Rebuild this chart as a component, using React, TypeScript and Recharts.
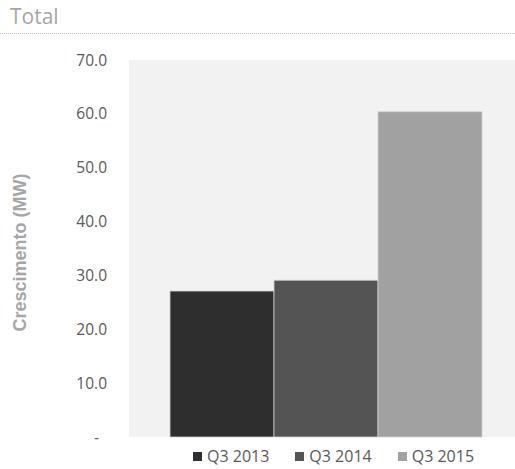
import React from 'react';
import { BarChart, Bar, XAxis, YAxis, CartesianGrid, Legend } from 'recharts';

const categories = ['Total'];
const seriesNames = ['Q3 2013', 'Q3 2014', 'Q3 2015'];
const q3_2013 = [27.1];
const q3_2014 = [29.1];
const q3_2015 = [60.4];
const yTicks = [0, 10, 20, 30, 40, 50, 60, 70];
const seriesColors = ['#2e2e2e', '#545454', '#a1a1a1'];

const data = categories.map((name, i) => ({
  name,
  [seriesNames[0]]: q3_2013[i],
  [seriesNames[1]]: q3_2014[i],
  [seriesNames[2]]: q3_2015[i],
}));

const FONT = '"Open Sans", "Noto Sans", sans-serif';

const renderLegend = (props: any) => {
  const { payload } = props;
  return (
    <div
      style={{
        display: 'flex',
        justifyContent: 'flex-start',
        paddingLeft: 193,
        height: 32,
        alignItems: 'flex-end',
        fontFamily: FONT,
        fontSize: 16,
        color: '#595959',
        boxSizing: 'border-box',
        paddingBottom: 3,
      }}
    >
      {(payload || []).map((p: any, i: number) => (
        <div key={i} style={{ display: 'flex', alignItems: 'center', marginRight: 26, lineHeight: '20px' }}>
          <span style={{ display: 'inline-block', width: 9, height: 9, background: p.color, marginRight: 5 }} />
          <span>{p.value}</span>
        </div>
      ))}
    </div>
  );
};

const YLabel = (props: any) => {
  const vb = props.viewBox || {};
  const cy = (vb.y || 0) + (vb.height || 0) / 2 + 4;
  const cx = 20;
  return (
    <text
      x={cx}
      y={cy}
      transform={`rotate(-90 ${cx} ${cy})`}
      textAnchor="middle"
      dominantBaseline="central"
      fill="#a6a6a6"
      style={{ fontFamily: '"Liberation Sans", Arial, sans-serif', fontSize: 18, fontWeight: 'bold' }}
    >
      Crescimento (MW)
    </text>
  );
};

export default function App() {
  return (
    <div style={{ position: 'absolute', left: 0, top: 0, width: 515, height: 469, background: '#fff', overflow: 'hidden' }}>
      <div
        style={{
          position: 'absolute',
          left: 10,
          top: 0,
          fontFamily: FONT,
          fontSize: 21,
          color: '#a6a6a6',
          lineHeight: '32px',
        }}
      >
        Total
      </div>
      <div
        style={{
          position: 'absolute',
          left: 0,
          top: 33,
          width: 515,
          borderTop: '1px dotted #bfbfbf',
        }}
      />
      <div style={{ position: 'absolute', left: 0, top: 0 }}>
        <BarChart
          width={515}
          height={469}
          data={data}
          margin={{ top: 60, right: 0, bottom: 0, left: 0 }}
          barGap={0}
          barCategoryGap={32}
        >
          <CartesianGrid fill="#f2f2f2" stroke="none" horizontal={false} vertical={false} />
          <XAxis dataKey="name" hide padding={{ left: 9, right: 0 }} />
          <YAxis
            width={129}
            domain={[0, 70]}
            ticks={yTicks}
            interval={0}
            axisLine={false}
            tickLine={false}
            tickSize={0}
            tickMargin={22}
            tickFormatter={(v: number) => (v === 0 ? '-\u00a0\u00a0' : v.toFixed(1))}
            tick={{ fill: '#595959', fontSize: 15.5, fontFamily: FONT }}
            label={<YLabel />}
          />
          <Legend verticalAlign="bottom" content={renderLegend} />
          {seriesNames.map((s, i) => (
            <Bar
              key={s}
              dataKey={s}
              fill={seriesColors[i]}
              stroke="#d0d0d0"
              strokeWidth={0.8}
              isAnimationActive={false}
            />
          ))}
        </BarChart>
      </div>
    </div>
  );
}
